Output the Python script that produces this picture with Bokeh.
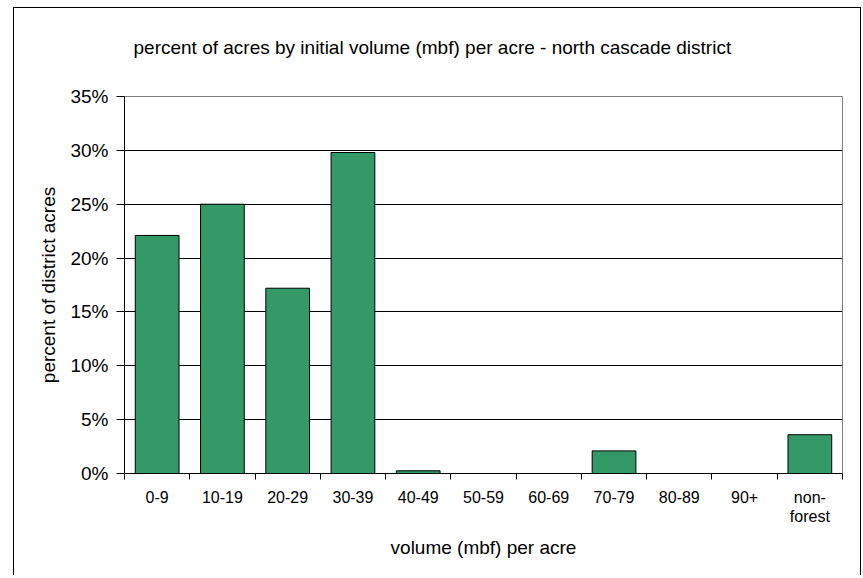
import numpy as np
from bokeh.plotting import figure
from bokeh.models import (Range1d, FixedTicker, PrintfTickFormatter, LinearAxis,
                          Grid, Title, ColumnDataSource)
from bokeh.embed import file_html
from bokeh.resources import INLINE

# ---- data ----
categories = ["0-9", "10-19", "20-29", "30-39", "40-49", "50-59", "60-69",
              "70-79", "80-89", "90+", "non-\nforest"]
percent_acres = [22.1, 25.0, 17.2, 29.8, 0.25, 0.0, 0.0, 2.1, 0.0, 0.0, 3.6]
y_ticks = [0, 5, 10, 15, 20, 25, 30, 35]

title_text = "percent of acres by initial volume (mbf) per acre - north cascade district"
x_title = "volume (mbf) per acre"
y_title = "percent of district acres"

FONT = "Liberation Sans"

n = len(categories)
centers = list(np.arange(n) + 0.5)
bounds = list(np.arange(n + 1).astype(float))

W, H = 862, 575
FR_L, FR_R, FR_T, FR_B = 124, 842, 96, 473

p = figure(width=W, height=H, output_backend="svg", toolbar_location=None,
           x_range=Range1d(0, n), y_range=Range1d(0, 35),
           x_axis_type=None, y_axis_type=None, title=None,
           min_border_left=FR_L, min_border_right=W - FR_R,
           min_border_top=FR_T, min_border_bottom=H - FR_B)

# chart title: large standoff lifts it well above the plot frame
p.add_layout(Title(text=title_text, align="left", offset=9, vertical_align="top",
                   standoff=73, text_font=FONT, text_font_size="19px",
                   text_font_style="normal", text_color="black"), "above")

src = ColumnDataSource(dict(x=centers, top=percent_acres))
p.vbar(x="x", top="top", width=0.67, bottom=0, source=src,
       fill_color="#339966", line_color="black", line_width=1)

# x axis: labels at centers, ticks (as minor ticks) at category boundaries
xax = LinearAxis(ticker=FixedTicker(ticks=centers, minor_ticks=bounds))
xax.major_label_overrides = {c: lab for c, lab in zip(centers, categories)}
xax.major_tick_out = 0
xax.major_tick_in = 0
xax.minor_tick_out = 6
xax.minor_tick_in = 0
xax.minor_tick_line_color = "black"
xax.axis_line_color = "black"
xax.major_label_standoff = 9
xax.major_label_text_font = FONT
xax.major_label_text_font_size = "16px"
xax.major_label_text_color = "black"
xax.major_label_text_line_height = 1.15
xax.axis_label = x_title
xax.axis_label_text_font = FONT
xax.axis_label_text_font_size = "19px"
xax.axis_label_text_font_style = "normal"
xax.axis_label_text_color = "black"
xax.axis_label_standoff = 9
p.add_layout(xax, "below")

yax = LinearAxis(ticker=FixedTicker(ticks=y_ticks, minor_ticks=[]),
                 formatter=PrintfTickFormatter(format="%d%%"))
yax.major_tick_out = 8
yax.major_tick_in = 0
yax.major_tick_line_color = "black"
yax.axis_line_color = "black"
yax.major_label_standoff = 8
yax.major_label_text_font = FONT
yax.major_label_text_font_size = "19px"
yax.major_label_text_color = "black"
yax.axis_label = y_title
yax.axis_label_text_font = FONT
yax.axis_label_text_font_size = "19px"
yax.axis_label_text_font_style = "normal"
yax.axis_label_text_color = "black"
yax.axis_label_standoff = 8
p.add_layout(yax, "left")

p.add_layout(Grid(dimension=1, ticker=FixedTicker(ticks=y_ticks),
                  grid_line_color="black", grid_line_width=1))

p.outline_line_color = "#808080"
p.outline_line_width = 1
p.background_fill_color = "white"
p.border_fill_color = None

# outer chart border drawn as the page element's background
p.styles = {
    "background-color": "white",
    "background-image": ("linear-gradient(#000,#000), linear-gradient(#000,#000), "
                         "linear-gradient(#000,#000)"),
    "background-size": "1px 100%, 848px 1px, 1px 100%",
    "background-position": "13px 7px, 13px 7px, 860px 7px",
    "background-repeat": "no-repeat",
}

open("out.html", "w").write(file_html(p, INLINE))
